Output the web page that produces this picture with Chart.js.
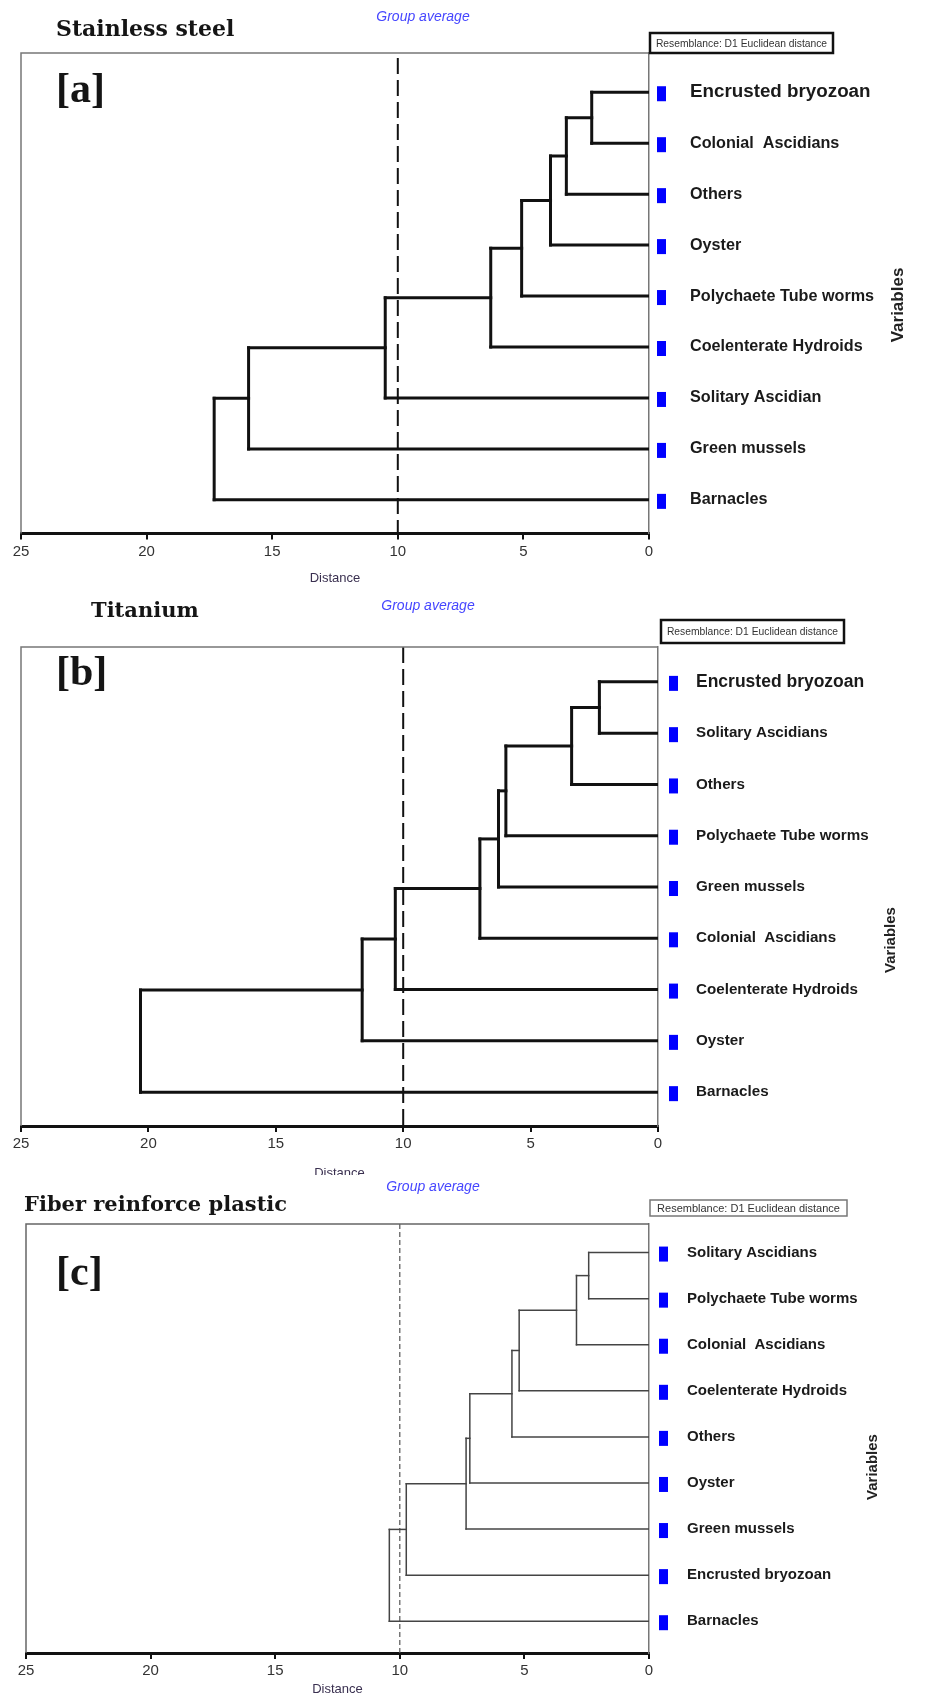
<!DOCTYPE html>
<html>
<head>
<meta charset="utf-8">
<title>Dendrograms</title>
<script src="https://cdn.jsdelivr.net/npm/chart.js@4.4.1/dist/chart.umd.min.js"></script>
<style>
  html, body { margin: 0; padding: 0; background: #fff; }
  #wrap { position: relative; width: 947px; height: 1697px; overflow: hidden; background: #fff; }
  .panel { position: absolute; left: 0; width: 947px; background: #fff; }
  .panel canvas { display: block; }
</style>
</head>
<body>
<div id="wrap">
  <div class="panel" style="top:0;height:590px"><canvas id="chartA" width="947" height="590"></canvas></div>
  <div class="panel" style="top:590px;height:585px"><canvas id="chartB" width="947" height="585"></canvas></div>
  <div class="panel" style="top:1175px;height:522px"><canvas id="chartC" width="947" height="522"></canvas></div>
</div>
<script>
// Data (distance at which each leaf joins the cluster above it)
const distanceTicks = [0, 5, 10, 15, 20, 25];
const cutOff = 10;

const leavesA = ['Encrusted bryozoan', 'Colonial  Ascidians', 'Others', 'Oyster', 'Polychaete Tube worms',
                 'Coelenterate Hydroids', 'Solitary Ascidian', 'Green mussels', 'Barnacles'];
const mergesA = [2.28, 3.29, 3.92, 5.07, 6.30, 10.5, 15.94, 17.31];

const leavesB = ['Encrusted bryozoan', 'Solitary Ascidians', 'Others', 'Polychaete Tube worms', 'Green mussels',
                 'Colonial  Ascidians', 'Coelenterate Hydroids', 'Oyster', 'Barnacles'];
const mergesB = [2.30, 3.39, 5.97, 6.26, 6.99, 10.31, 11.61, 20.31];

const leavesC = ['Solitary Ascidians', 'Polychaete Tube worms', 'Colonial  Ascidians', 'Coelenterate Hydroids', 'Others',
                 'Oyster', 'Green mussels', 'Encrusted bryozoan', 'Barnacles'];
const mergesC = [2.42, 2.91, 5.21, 5.50, 7.19, 7.34, 9.74, 10.42];

const SANS = '"Liberation Sans", Arial, sans-serif';

// Build the elbow segments of a chained dendrogram
function dendroSegments(merges) {
    const segs = [];
    let nodeY = 0, nodeX = 0;
    merges.forEach((h, k) => {
        const leaf = k + 1;
        segs.push([{ x: nodeX, y: nodeY }, { x: h, y: nodeY }]);
        segs.push([{ x: 0, y: leaf }, { x: h, y: leaf }]);
        segs.push([{ x: h, y: nodeY }, { x: h, y: leaf }]);
        nodeY = (nodeY + leaf) / 2;
        nodeX = h;
    });
    return segs;
}

// Frame, markers, titles and small boxes around each dendrogram
const panelDeco = {
    id: 'panelDeco',
    afterDraw(chart, args, o) {
        const { ctx, chartArea: ca, scales: { y } } = chart;
        ctx.save();
        ctx.strokeStyle = o.frameColor;
        ctx.lineWidth = 1.5;
        ctx.beginPath();
        ctx.moveTo(ca.left, ca.bottom);
        ctx.lineTo(ca.left, ca.top);
        ctx.lineTo(ca.right, ca.top);
        ctx.stroke();

        ctx.fillStyle = '#0000ff';
        y.ticks.forEach(t => {
            const py = y.getPixelForValue(t.value);
            ctx.fillRect(o.markerX, py - 7 + o.markerDy, 9, 15);
        });

        ctx.textBaseline = 'middle';
        ctx.textAlign = 'left';
        ctx.fillStyle = '#151515';
        ctx.font = o.titleFont;
        ctx.fillText(o.title, o.titleX, o.titleY);
        ctx.font = o.letterFont;
        ctx.fillText(o.letter, o.letterX, o.letterY);

        ctx.textAlign = 'center';
        ctx.fillStyle = '#4646ff';
        ctx.font = 'italic 14px ' + SANS;
        ctx.fillText('Group average', o.groupX, o.groupY);

        const [bx, by, bw, bh] = o.box;
        ctx.fillStyle = '#fff';
        ctx.fillRect(bx, by, bw, bh);
        ctx.strokeStyle = o.boxColor;
        ctx.lineWidth = o.boxWidth;
        ctx.strokeRect(bx, by, bw, bh);
        ctx.fillStyle = '#333';
        ctx.font = o.boxFont;
        ctx.fillText('Resemblance: D1 Euclidean distance', bx + bw / 2, by + bh / 2 + 1);

        ctx.translate(o.varX, o.varY);
        ctx.rotate(-Math.PI / 2);
        ctx.fillStyle = '#222';
        ctx.font = o.varFont;
        ctx.fillText('Variables', 0, 0);
        ctx.restore();
    }
};

function renderDendrogram(id, leaves, merges, p) {
    const ctx = document.getElementById(id);
    const datasets = dendroSegments(merges).map(seg => ({
        data: seg,
        borderColor: p.lineColor,
        borderWidth: p.lineWidth,
        borderCapStyle: 'square',
        showLine: true,
        pointRadius: 0,
        pointHoverRadius: 0
    }));
    datasets.push({
        data: [{ x: cutOff, y: p.yMin + p.dashStart }, { x: cutOff, y: p.yMax }],
        borderColor: p.dashColor,
        borderWidth: p.dashWidth,
        borderDash: p.dash,
        showLine: true,
        pointRadius: 0
    });

    return new Chart(ctx, {
        type: 'scatter',
        data: { datasets },
        plugins: [panelDeco],
        options: {
            responsive: false,
            animation: false,
            events: [],
            layout: { padding: { left: p.left, top: p.top, right: 0, bottom: 0 } },
            scales: {
                x: {
                    type: 'linear',
                    min: 0,
                    max: 25,
                    reverse: true,
                    afterBuildTicks: scale => { scale.ticks = distanceTicks.map(v => ({ value: v })); },
                    afterFit: scale => { scale.height = p.xAxisHeight; },
                    grid: { drawOnChartArea: false, drawTicks: true, tickLength: 6, color: '#111', lineWidth: 2 },
                    border: { display: true, color: '#111', width: 3 },
                    ticks: { color: '#333', padding: 3, font: { family: SANS, size: 15 } },
                    title: {
                        display: true,
                        text: 'Distance',
                        color: '#3a3050',
                        padding: { top: 0, bottom: p.titlePad },
                        font: { family: SANS, size: 13 }
                    }
                },
                y: {
                    type: 'linear',
                    position: 'right',
                    reverse: true,
                    min: p.yMin,
                    max: p.yMax,
                    afterBuildTicks: scale => { scale.ticks = leaves.map((_, i) => ({ value: i })); },
                    afterFit: scale => { scale.width = 947 - p.right; },
                    grid: { display: false },
                    border: { display: true, color: '#777', width: 1.5 },
                    ticks: {
                        autoSkip: false,
                        padding: p.labelPad,
                        color: '#1a1a1a',
                        callback: v => leaves[v],
                        font: c => ({ family: SANS, weight: 'bold', size: c.index === 0 ? p.firstSize : p.labelSize })
                    }
                }
            },
            plugins: {
                legend: { display: false },
                tooltip: { enabled: false },
                panelDeco: p.deco
            }
        }
    });
}

renderDendrogram('chartA', leavesA, mergesA, {
    left: 21, top: 53, right: 649, xAxisHeight: 56.5, titlePad: 4,
    yMin: -0.77, yMax: 8.66, dashStart: 0.1,
    lineColor: '#111', lineWidth: 3, dashColor: '#111', dashWidth: 2, dash: [16, 6],
    labelPad: 33, labelSize: 16.2, firstSize: 18.8,
    deco: {
        frameColor: '#777', markerX: 657, markerDy: 1,
        title: 'Stainless steel', titleFont: 'bold 22px "DejaVu Serif", serif', titleX: 56, titleY: 30,
        letter: '[a]', letterFont: 'bold 42px "Liberation Serif", serif', letterX: 56, letterY: 91,
        groupX: 423, groupY: 17,
        box: [650, 33, 183, 20], boxColor: '#111', boxWidth: 2.5, boxFont: '10.3px ' + SANS,
        varX: 898, varY: 305, varFont: 'bold 17px ' + SANS
    }
});

renderDendrogram('chartB', leavesB, mergesB, {
    left: 21, top: 57, right: 658, xAxisHeight: 49, titlePad: -6,
    yMin: -0.68, yMax: 8.66, dashStart: 0,
    lineColor: '#111', lineWidth: 3, dashColor: '#111', dashWidth: 2, dash: [16, 6],
    labelPad: 30, labelSize: 15.2, firstSize: 17.5,
    deco: {
        frameColor: '#777', markerX: 669, markerDy: 1,
        title: 'Titanium', titleFont: 'bold 21px "DejaVu Serif", serif', titleX: 91, titleY: 22,
        letter: '[b]', letterFont: 'bold 42px "Liberation Serif", serif', letterX: 56, letterY: 84,
        groupX: 428, groupY: 16,
        box: [661, 30, 183, 23], boxColor: '#111', boxWidth: 2.5, boxFont: '10.3px ' + SANS,
        varX: 891, varY: 350, varFont: 'bold 15px ' + SANS
    }
});

renderDendrogram('chartC', leavesC, mergesC, {
    left: 26, top: 49, right: 649, xAxisHeight: 44, titlePad: 0,
    yMin: -0.62, yMax: 8.69, dashStart: 0,
    lineColor: '#444', lineWidth: 1.5, dashColor: '#555', dashWidth: 1.2, dash: [5, 3],
    labelPad: 30, labelSize: 15, firstSize: 15,
    deco: {
        frameColor: '#666', markerX: 659, markerDy: 1,
        title: 'Fiber reinforce plastic', titleFont: 'bold 21px "DejaVu Serif", serif', titleX: 24, titleY: 31,
        letter: '[c]', letterFont: 'bold 42px "Liberation Serif", serif', letterX: 56, letterY: 99,
        groupX: 433, groupY: 12,
        box: [650, 25, 197, 16], boxColor: '#777', boxWidth: 1.5, boxFont: '11px ' + SANS,
        varX: 873, varY: 292, varFont: 'bold 15px ' + SANS
    }
});
</script>
</body>
</html>
